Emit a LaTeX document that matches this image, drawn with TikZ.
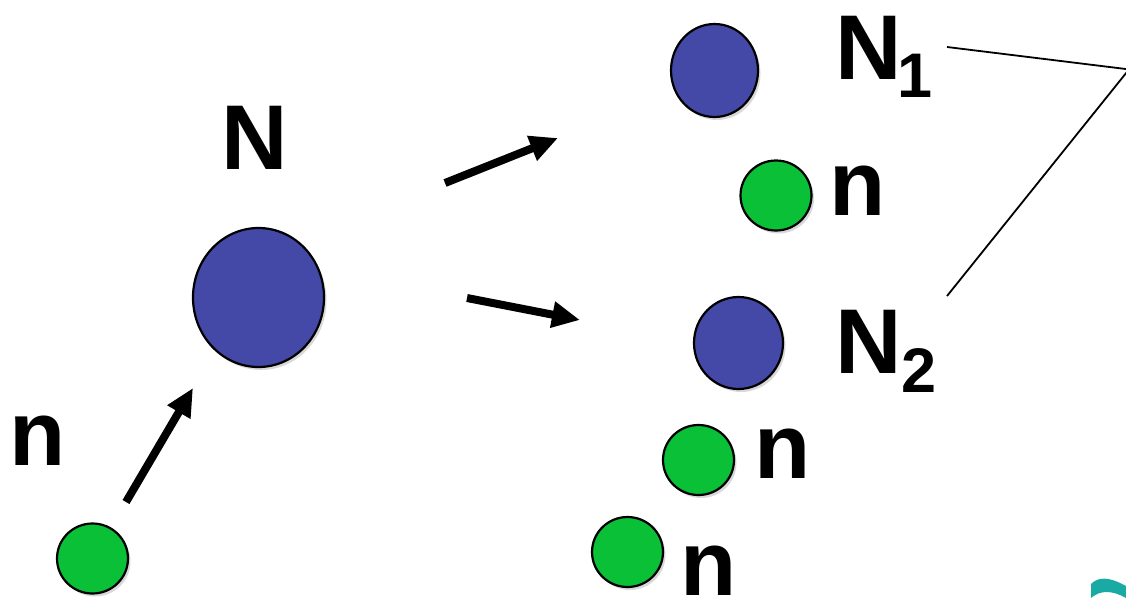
\documentclass[tikz,border=0pt]{standalone}
\usepackage{fontspec}
\setmainfont{Liberation Sans}
\usetikzlibrary{shapes.geometric,arrows.meta,shadows}
\definecolor{nblue}{RGB}{68,73,168}
\definecolor{ngreen}{RGB}{10,192,55}
\definecolor{tealc}{RGB}{26,170,164}
\tikzset{
  particle/.style={ellipse, draw=black, line width=2.2pt, inner sep=0pt,
    drop shadow={shadow xshift=2.5pt, shadow yshift=-3pt, opacity=0.15, fill=black}},
  bigN/.style={particle, fill=nblue},
  neutron/.style={particle, fill=ngreen, minimum width=71pt, minimum height=70pt},
  lbl/.style={inner sep=0pt, font=\bfseries\fontsize{92}{100}\selectfont},
  movearrow/.style={line width=8pt, -{Triangle[length=28pt,width=25pt]}},
  thinline/.style={line width=1.8pt}
}
\begin{document}
\begin{tikzpicture}[x=1pt,y=-1pt]
\clip (0,0) rectangle (1126,597);
\fill[white] (0,0) rectangle (1126,597);
% nuclei
\node[bigN, minimum width=131pt, minimum height=139pt] (N) at (258.5,297.5) {};
\node[bigN, minimum width=87pt, minimum height=93pt] (N1) at (714.5,70.5) {};
\node[bigN, minimum width=89pt, minimum height=92pt] (N2) at (738.5,343) {};
% neutrons
\node[neutron] (n0) at (92.5,558.5) {};
\node[neutron] (n1) at (776,195.5) {};
\node[neutron] (n2) at (698.5,460) {};
\node[neutron] (n3) at (627.5,552) {};
% labels
\node[lbl, anchor=base] (Nl) at (255,169) {N};
\node[lbl, anchor=base west] (N1l) at (835.3,79) {N\kern-4pt\raisebox{-18pt}{\fontsize{63}{63}\selectfont 1}};
\node[lbl, anchor=base west] (N2l) at (835.3,373) {N\raisebox{-19pt}{\fontsize{63}{63}\selectfont 2}};
\node[lbl, anchor=base west] (n0l) at (9,465) {n};
\node[lbl, anchor=base west] (n1l) at (829,215) {n};
\node[lbl, anchor=base west] (n2l) at (754,478) {n};
\node[lbl, anchor=base west] (n3l) at (680,595) {n};
% arrows
\coordinate (a0s) at (126,502); \coordinate (a0e) at (193,388);
\coordinate (a1s) at (445,183); \coordinate (a1e) at (558,138);
\coordinate (a2s) at (467,298); \coordinate (a2e) at (580,320);
\draw[movearrow] (a0s) -- (a0e);
\draw[movearrow] (a1s) -- (a1e);
\draw[movearrow] (a2s) -- (a2e);
% bracket lines
\coordinate (b1) at (947,47);
\coordinate (apex) at (1129,69.4);
\coordinate (b2) at (947,296);
\draw[thinline] (b1) -- (apex) -- (b2);
% teal logo fragment
\fill[tealc] (1091,598) -- (1091,584) .. controls (1098,577) and (1108,576) .. (1126,586)
  -- (1126,598) .. controls (1112,590) and (1100,590) .. (1091,598) -- cycle;
\end{tikzpicture}
\end{document}
